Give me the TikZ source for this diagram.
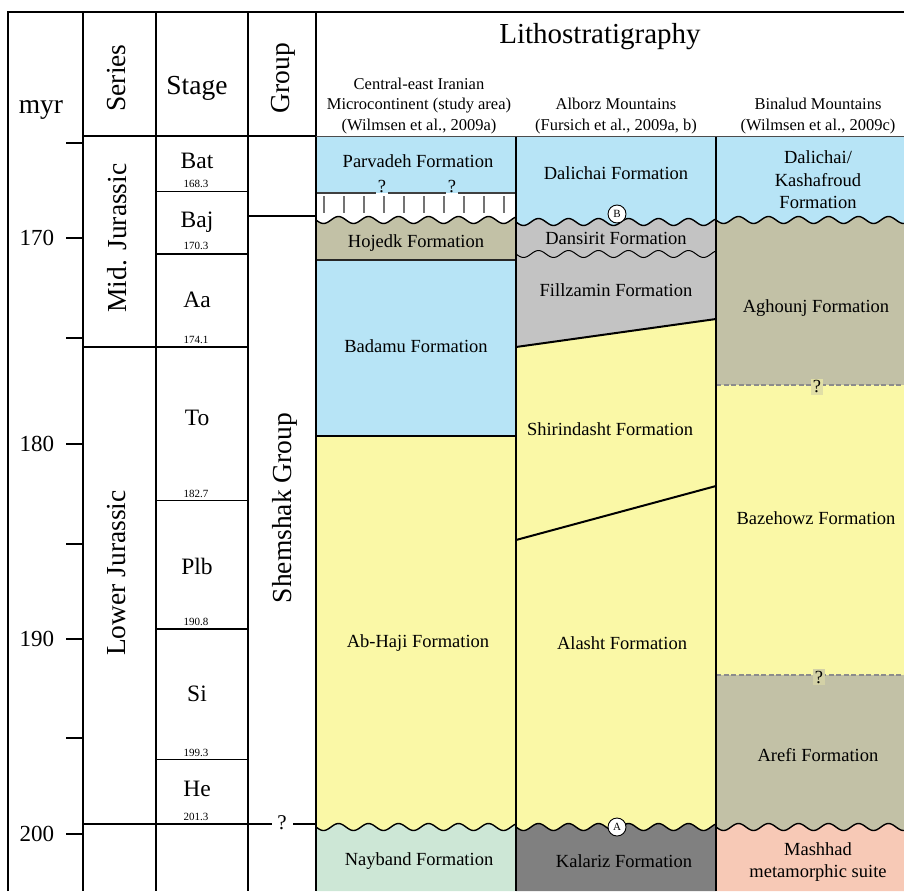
\documentclass[tikz,border=0pt]{standalone}
\usepackage{fontspec}
\setmainfont{Liberation Serif}
\definecolor{cblue}{HTML}{B7E4F6}
\definecolor{cyel}{HTML}{FAF8A6}
\definecolor{colive}{HTML}{C2C1A6}
\definecolor{clgray}{HTML}{C3C3C3}
\definecolor{cdgray}{HTML}{808080}
\definecolor{cgreen}{HTML}{CDE7D6}
\definecolor{csalmon}{HTML}{F7C9B6}
\begin{document}
\begin{tikzpicture}[x=1pt,y=-1pt,
  frame/.style={line width=2.4pt,black},
  gridl/.style={line width=1.9pt,black},
  wave/.style={line width=1.4pt,black},
  lbl/.style={inner sep=0pt,align=center},
  fm/.style={lbl,font=\fontsize{18.5}{22.5}\selectfont},
  hdr/.style={lbl,font=\fontsize{16.5}{20.5}\selectfont},
  big/.style={lbl,font=\fontsize{27.5}{30}\selectfont},
  stg/.style={lbl,font=\fontsize{23.5}{26}\selectfont},
  agel/.style={lbl,font=\fontsize{11}{12}\selectfont},
  num/.style={lbl,font=\fontsize{23}{26}\selectfont},
  qm/.style={lbl,font=\fontsize{18.5}{20}\selectfont},
  mark circle/.style={circle,draw,line width=0.9pt,fill=white,inner sep=0pt,minimum size=18pt,font=\fontsize{11}{11}\selectfont},
  ]
\useasboundingbox (0,0) rectangle (904,891);

% ---------- fills: column 1 ----------
\fill[cblue] (316,136) rectangle (516,193);
\fill[colive] (316,260) -- (316,220) -- plot[domain=316:516,samples=120] (\x,{220+3.5*sin((\x-316)*12)}) -- (516,260) -- cycle;
\fill[cblue] (316,260) rectangle (516,436);
\fill[cyel] (316,436) -- (516,436) -- plot[domain=516:316,samples=120] (\x,{827+3.5*sin((\x-316)*12)}) -- cycle;
\fill[cgreen] (316,891) -- plot[domain=316:516,samples=120] (\x,{827+3.5*sin((\x-316)*12)}) -- (516,891) -- cycle;

% ---------- fills: column 2 ----------
\fill[cblue] (516,136) -- (716,136) -- plot[domain=716:516,samples=120] (\x,{222+3.5*sin((\x-516)*12)}) -- cycle;
\fill[clgray] plot[domain=516:716,samples=120] (\x,{222+3.5*sin((\x-516)*12)}) -- (716,319) -- (516,347) -- cycle;
\fill[cyel] (516,347) -- (716,319) -- plot[domain=716:516,samples=120] (\x,{827+3.5*sin((\x-516)*12)}) -- cycle;
\fill[cdgray] (516,891) -- plot[domain=516:716,samples=120] (\x,{827+3.5*sin((\x-516)*12)}) -- (716,891) -- cycle;

% ---------- fills: column 3 ----------
\fill[cblue] (716,136) -- (904,136) -- plot[domain=904:716,samples=120] (\x,{220+3.5*sin((\x-716)*12)}) -- cycle;
\fill[colive] plot[domain=716:904,samples=120] (\x,{220+3.5*sin((\x-716)*12)}) -- (904,385) -- (716,385) -- cycle;
\fill[cyel] (716,385) rectangle (904,675);
\fill[colive] (716,675) -- (904,675) -- plot[domain=904:716,samples=120] (\x,{827+3.5*sin((\x-716)*12)}) -- cycle;
\fill[csalmon] (716,891) -- plot[domain=716:904,samples=120] (\x,{827+3.5*sin((\x-716)*12)}) -- (904,891) -- cycle;

% ---------- boundaries inside the lithostratigraphy ----------
% column 1
\draw[line width=1.8pt,black!75] (316,193) -- (376,193) (388,193) -- (446,193) (458,193) -- (516,193);
\foreach \h in {324,344,...,504} \draw[line width=1.1pt,black!55] (\h,196) -- (\h,213);
\draw[wave] plot[domain=316:516,samples=120] (\x,{220+3.5*sin((\x-316)*12)});
\draw[line width=2.2pt,black!85] (316,260) -- (516,260);
\draw[line width=1.8pt,black] (316,436) -- (516,436);
\draw[wave] plot[domain=316:516,samples=120] (\x,{827+3.5*sin((\x-316)*12)});
% column 2
\draw[wave] plot[domain=516:716,samples=120] (\x,{222+3.5*sin((\x-516)*12)});
\draw[line width=1pt,black] plot[domain=516:716,samples=120] (\x,{254+3.5*sin((\x-516)*12)});
\draw[line width=2pt,black] (516,347) -- (716,319);
\draw[line width=2pt,black] (516,540) -- (716,486);
\draw[wave] plot[domain=516:716,samples=120] (\x,{827+3.5*sin((\x-516)*12)});
% column 3
\draw[wave] plot[domain=716:904,samples=120] (\x,{220+3.5*sin((\x-716)*12)});
\draw[line width=1.1pt,black!45,dash pattern=on 5pt off 2.5pt] (716,385) -- (904,385);
\draw[line width=1.1pt,black!45,dash pattern=on 5pt off 2.5pt] (716,675) -- (904,675);
\draw[wave] plot[domain=716:904,samples=120] (\x,{827+3.5*sin((\x-716)*12)});

% ---------- frame and grid ----------
\draw[frame] (8,891) -- (8,12) -- (904,12);
\draw[gridl] (83,12) -- (83,891);
\draw[gridl] (156,12) -- (156,891);
\draw[gridl] (248,12) -- (248,891);
\draw[frame] (316,12) -- (316,891);
\draw[frame] (516,136) -- (516,891);
\draw[frame] (716,136) -- (716,891);
\draw[gridl] (83,136) -- (316,136);
\draw[line width=1pt,black!70] (316,136) -- (904,136);
\foreach \t in {143,238,338,444,544,639,738,834} \draw[gridl] (66,\t) -- (83,\t);
\draw[gridl] (83,347) -- (248,347);
\foreach \t in {191.5,254,500.5,629,759.5} \draw[gridl] (156,\t) -- (248,\t);
\draw[gridl] (83,824) -- (272,824) (293,824) -- (316,824);
\draw[gridl] (248,216) -- (316,216);

% ---------- left columns text ----------
\node[big] (myr) at (41,110) {myr};
\node[num] (t170) at (37,238) {170};
\node[num] (t180) at (37,444) {180};
\node[num] (t190) at (37,639) {190};
\node[num] (t200) at (37,834) {200};
\node[big,rotate=90] (series) at (117,78) {Series};
\node[big] (stage) at (197,88) {Stage};
\node[big,rotate=90] (group) at (283,78) {Group};
\node[big,rotate=90] (mid) at (117,238) {Mid. Jurassic};
\node[big,rotate=90] (lower) at (117,573) {Lower Jurassic};
\node[big,rotate=90] (shem) at (285,508) {Shemshak Group};
\node[stg] (bat) at (197,161) {Bat};
\node[stg] (baj) at (197,222) {Baj};
\node[stg] (aa) at (197,300) {Aa};
\node[stg] (to) at (197,418) {To};
\node[stg] (plb) at (197,566) {Plb};
\node[stg] (si) at (197,694) {Si};
\node[stg] (he) at (197,789) {He};
\node[agel] (a1) at (196,184) {168.3};
\node[agel] (a2) at (196,246) {170.3};
\node[agel] (a3) at (196,339.5) {174.1};
\node[agel] (a4) at (196,494) {182.7};
\node[agel] (a5) at (196,621.5) {190.8};
\node[agel] (a6) at (196,752.5) {199.3};
\node[agel] (a7) at (196,817) {201.3};
\node[lbl,font=\fontsize{21}{22}\selectfont] (qg) at (282,823) {?};

% ---------- lithostratigraphy text ----------
\node[lbl,font=\fontsize{29}{32}\selectfont] (litho) at (600,37) {Lithostratigraphy};
\node[hdr] (h1) at (419,106) {Central-east Iranian\\Microcontinent (study area)\\(Wilmsen et al., 2009a)};
\node[hdr] (h2) at (616,116) {Alborz Mountains\\(Fursich et al., 2009a, b)};
\node[hdr] (h3) at (818,116) {Binalud Mountains\\(Wilmsen et al., 2009c)};

\node[fm] (parv) at (418,161) {Parvadeh Formation};
\node[qm] (q1) at (382,187) {?};
\node[qm] (q2) at (452,187) {?};
\node[fm] (hoj) at (416,243) {Hojedk Formation};
\node[fm] (bad) at (416,346) {Badamu Formation};
\node[fm] (abh) at (418,643) {Ab-Haji Formation};
\node[fm] (nay) at (419,861) {Nayband Formation};

\node[fm] (dal) at (616,173) {Dalichai Formation};
\node[fm] (dan) at (616,238) {Dansirit Formation};
\node[fm] (fil) at (616,290) {Fillzamin Formation};
\node[fm] (shi) at (610,429) {Shirindasht Formation};
\node[fm] (ala) at (622,643) {Alasht Formation};
\node[fm] (kal) at (624,861) {Kalariz Formation};
\node[mark circle] (cB) at (617,214) {B};
\node[mark circle] (cA) at (617,827) {A};

\node[fm] (dk) at (818,180) {Dalichai/\\Kashafroud\\Formation};
\node[fm] (agh) at (816,308) {Aghounj Formation};
\node[qm,fill=colive!45!cyel,inner sep=1.5pt] (q3) at (817,387) {?};
\node[fm] (baz) at (816,518) {Bazehowz Formation};
\node[qm,fill=colive!70!cyel,inner sep=1.5pt] (q4) at (819,677) {?};
\node[fm] (are) at (818,755) {Arefi Formation};
\node[fm] (mash) at (818,862) {Mashhad\\metamorphic suite};
\end{tikzpicture}
\end{document}
